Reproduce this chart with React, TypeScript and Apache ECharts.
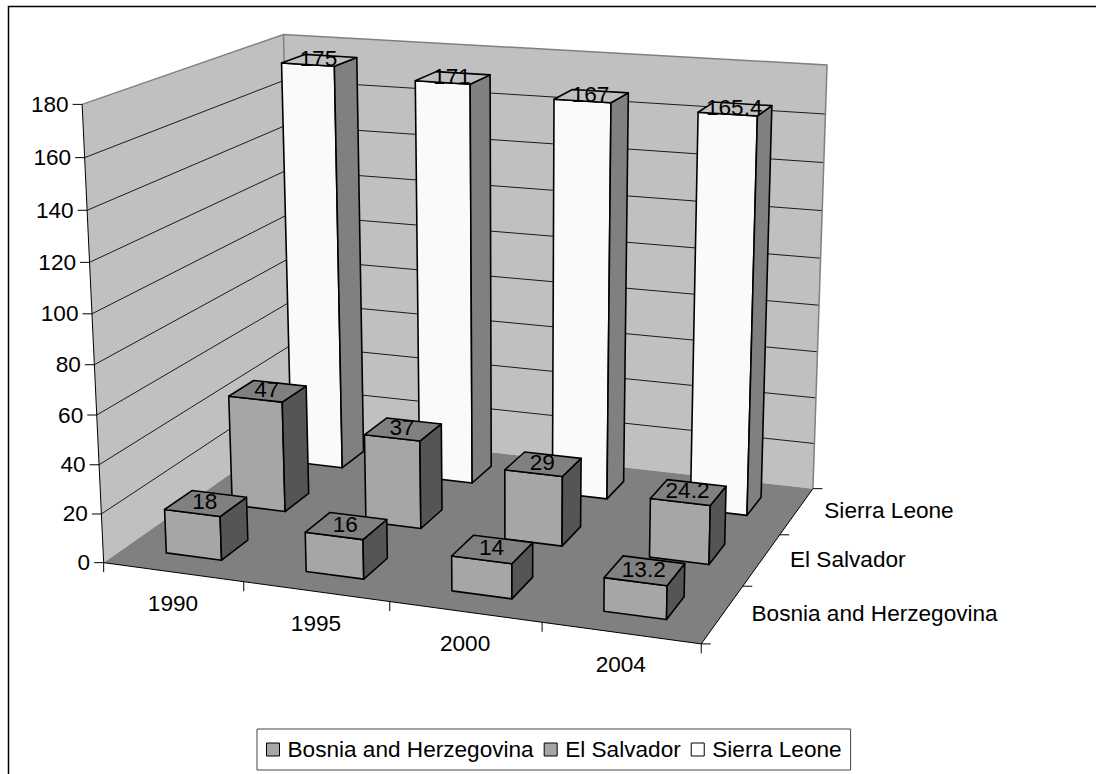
import React, { useEffect, useRef } from "react";
import * as echarts from "echarts";

const years = ["1990", "1995", "2000", "2004"];
const depthNames = ["Bosnia and Herzegovina", "El Salvador", "Sierra Leone"];
const bosnia = [18, 16, 14, 13.2];
const elSalvador = [47, 37, 29, 24.2];
const sierraLeone = [175, 171, 167, 165.4];
const yTicks = [0, 20, 40, 60, 80, 100, 120, 140, 160, 180];
const yMax = 180;

// Calibration of the 3D box: (x, y, z) unit-cube point -> picture pixel
const calibration: number[][] = [
  [0, 0, 0, 102.7, 561.7],
  [1, 0, 0, 701.7, 644.3],
  [1, 0, 1, 812.3, 488.3],
  [0, 0, 1, 294.4, 431],
  [0, 1, 0, 82.7, 105],
  [0, 1, 1, 283, 34.5],
  [1, 1, 1, 827.3, 65],
  [0, 160 / 180, 1, 284.3, 79.8],
  [0, 100 / 180, 1, 288, 214],
];

function solve(A: number[][], b: number[]): number[] {
  const n = b.length;
  const M = A.map((r, i) => [...r, b[i]]);
  for (let c = 0; c < n; c++) {
    let p = c;
    for (let r = c + 1; r < n; r++) if (Math.abs(M[r][c]) > Math.abs(M[p][c])) p = r;
    [M[c], M[p]] = [M[p], M[c]];
    for (let r = 0; r < n; r++) {
      if (r === c) continue;
      const f = M[r][c] / M[c][c];
      for (let k = c; k <= n; k++) M[r][k] -= f * M[c][k];
    }
  }
  return M.map((r, i) => r[n] / r[i]);
}

function fitCamera(): number[] {
  const rows: number[][] = [];
  const rhs: number[] = [];
  calibration.forEach(([x, y, z, u0, v0]) => {
    const u = u0 / 1000, v = v0 / 1000;
    rows.push([x, y, z, 1, 0, 0, 0, 0, -u * x, -u * y, -u * z]);
    rhs.push(u);
    rows.push([0, 0, 0, 0, x, y, z, 1, -v * x, -v * y, -v * z]);
    rhs.push(v);
  });
  const n = 11;
  const AtA = Array.from({ length: n }, (_, i) =>
    Array.from({ length: n }, (_, j) => rows.reduce((s, r) => s + r[i] * r[j], 0))
  );
  const Atb = Array.from({ length: n }, (_, i) => rows.reduce((s, r, k) => s + r[i] * rhs[k], 0));
  return solve(AtA, Atb);
}

const cam = fitCamera();
function project(x: number, y: number, z: number): number[] {
  const w = cam[8] * x + cam[9] * y + cam[10] * z + 1;
  return [
    (1000 * (cam[0] * x + cam[1] * y + cam[2] * z + cam[3])) / w,
    (1000 * (cam[4] * x + cam[5] * y + cam[6] * z + cam[7])) / w,
  ];
}

const FONT_SIZE = 22.6;
const FONT = `${FONT_SIZE}px "Liberation Sans", Arial, sans-serif`;
const textEl = (text: string, x: number, y: number, align = "center") => ({
  type: "text",
  silent: true,
  style: { text, x, y, align, verticalAlign: "middle", textAlign: align, textVerticalAlign: "middle", font: FONT, fill: "#000" },
});
const poly = (points: number[][], fill: string, stroke: string, lineWidth = 1) => ({
  type: "polygon",
  silent: true,
  shape: { points },
  style: { fill, stroke, lineWidth, lineJoin: "round" },
});
const line = (a: number[], b: number[], stroke: string, lineWidth = 1) => ({
  type: "line",
  silent: true,
  shape: { x1: a[0], y1: a[1], x2: b[0], y2: b[1] },
  style: { stroke, lineWidth },
});

const catLabelDrop = 31.5;
const depthLabelAnchor = [[751.5, 613.5], [790, 559], [824.3, 510.7]];

function renderFrame() {
  const kids: any[] = [];
  const W = "#C0C0C0", EDGE = "#808080";
  kids.push(poly([project(0, 0, 0), project(0, 0, 1), project(0, 1, 1), project(0, 1, 0)], W, "none", 0));
  kids.push(poly([project(0, 0, 1), project(1, 0, 1), project(1, 1, 1), project(0, 1, 1)], W, "none", 0));
  kids.push(poly([project(0, 0, 0), project(1, 0, 0), project(1, 0, 1), project(0, 0, 1)], "#808080", "none", 0));
  yTicks.forEach((t) => {
    const y = t / yMax;
    if (t > 0 && t < yMax) {
      kids.push({
        type: "polyline",
        silent: true,
        shape: { points: [project(0, y, 0), project(0, y, 1), project(1, y, 1)] },
        style: { stroke: "#1a1a1a", lineWidth: 1, fill: "none" },
      });
    }
  });
  kids.push({
    type: "polyline",
    silent: true,
    shape: { points: [project(0, 1, 0), project(0, 1, 1), project(1, 1, 1), project(1, 0, 1)] },
    style: { stroke: EDGE, lineWidth: 1.5, fill: "none" },
  });
  kids.push(line(project(0, 1, 1), project(0, 0, 1), EDGE, 1.5));
  // axes
  kids.push(line(project(0, 0, 0), project(0, 1, 0), "#000"));
  kids.push(line(project(0, 0, 0), project(1, 0, 0), "#000"));
  kids.push(line(project(1, 0, 0), project(1, 0, 1), "#000"));
  yTicks.forEach((t) => {
    const p = project(0, t / yMax, 0);
    kids.push(line([p[0] - 9.5, p[1]], p, "#000"));
    kids.push(textEl(String(t), p[0] - 13.5, p[1], "right"));
  });
  for (let i = 0; i <= years.length; i++) {
    const p = project(i / years.length, 0, 0);
    kids.push(line(p, [p[0], p[1] + 9.5], "#000"));
  }
  years.forEach((label, i) => {
    const p = project((i + 0.5) / years.length, 0, 0);
    kids.push(textEl(label, p[0], p[1] + catLabelDrop));
  });
  for (let k = 0; k <= depthNames.length; k++) {
    const p = project(1, 0, k / depthNames.length);
    kids.push(line(p, [p[0] + 9.5, p[1]], "#000"));
  }
  depthNames.forEach((label, k) => {
    kids.push(textEl(label, depthLabelAnchor[k][0], depthLabelAnchor[k][1], "left"));
  });
  return { type: "group", children: kids };
}

const GAP = 0.3; // fraction of a category cell left empty on each side (Excel gap 150%)

function barRenderer(depthIndex: number, front: string, top: string, side: string) {
  return (params: any, api: any) => {
    const cs = params.coordSys;
    const base = api.coord([api.value(0), 0]);
    const tip = api.coord([api.value(0), api.value(1)]);
    const cellW = api.size([1, 0])[0] / cs.width;
    const cx = (base[0] - cs.x) / cs.width;
    const x0 = cx - cellW * (0.5 - GAP);
    const x1 = cx + cellW * (0.5 - GAP);
    const h = (base[1] - tip[1]) / cs.height;
    const cell = 1 / depthNames.length;
    const z0 = (depthIndex + GAP) * cell;
    const z1 = (depthIndex + 1 - GAP) * cell;
    const lw = 1.6;
    const topCenter = project((x0 + x1) / 2, h, (z0 + z1) / 2);
    return {
      type: "group",
      children: [
        poly([project(x0, 0, z0), project(x1, 0, z0), project(x1, h, z0), project(x0, h, z0)], front, "#000", lw),
        poly([project(x1, 0, z0), project(x1, 0, z1), project(x1, h, z1), project(x1, h, z0)], side, "#000", lw),
        poly([project(x0, h, z0), project(x1, h, z0), project(x1, h, z1), project(x0, h, z1)], top, "#000", lw),
        textEl(String(api.value(1)), topCenter[0] - 1, topCenter[1] - 1.5),
      ],
    };
  };
}

const toData = (vals: number[]) => vals.map((v, i) => [i, v]);

export default function App() {
  const ref = useRef<HTMLDivElement>(null);
  useEffect(() => {
    document.body.style.margin = "0";
    const chart = echarts.init(ref.current!, undefined, { renderer: "svg" });
    chart.setOption({
      animation: false,
      backgroundColor: "#fff",
      grid: { left: 0, right: 0, top: 0, bottom: 0, show: false },
      xAxis: { type: "category", data: years, show: false },
      yAxis: { type: "value", min: 0, max: yMax, interval: 20, show: false },
      graphic: [
        { type: "rect", silent: true, shape: { x: 8.5, y: 6.5, width: 1300, height: 1000 }, style: { fill: "none", stroke: "#000", lineWidth: 1.5 } },
      ],
      legend: {
        data: depthNames,
        left: 257,
        top: 729,
        padding: [9, 9, 9, 9],
        itemWidth: 13,
        itemHeight: 13,
        itemGap: 10,
        icon: "rect",
        selectedMode: false,
        backgroundColor: "#fff",
        borderColor: "#444",
        borderWidth: 1,
        itemStyle: { borderColor: "#000", borderWidth: 1 },
        textStyle: { fontFamily: '"Liberation Sans", Arial, sans-serif', fontSize: FONT_SIZE, color: "#000", padding: [0, 0, 0, 3] },
      },
      series: [
        { type: "custom", name: "frame", coordinateSystem: "none", data: [[0]], silent: true, renderItem: renderFrame },
        { type: "custom", name: "Sierra Leone", data: toData(sierraLeone), silent: true, itemStyle: { color: "#FFFFFF" }, renderItem: barRenderer(2, "#FAFAFA", "#C0C0C0", "#808080") },
        { type: "custom", name: "El Salvador", data: toData(elSalvador), silent: true, itemStyle: { color: "#A6A6A6" }, renderItem: barRenderer(1, "#A6A6A6", "#808080", "#555555") },
        { type: "custom", name: "Bosnia and Herzegovina", data: toData(bosnia), silent: true, itemStyle: { color: "#A6A6A6" }, renderItem: barRenderer(0, "#A6A6A6", "#808080", "#555555") },
      ],
    });
    return () => chart.dispose();
  }, []);
  return <div ref={ref} style={{ position: "fixed", left: 0, top: 0, width: 1096, height: 774 }} />;
}
